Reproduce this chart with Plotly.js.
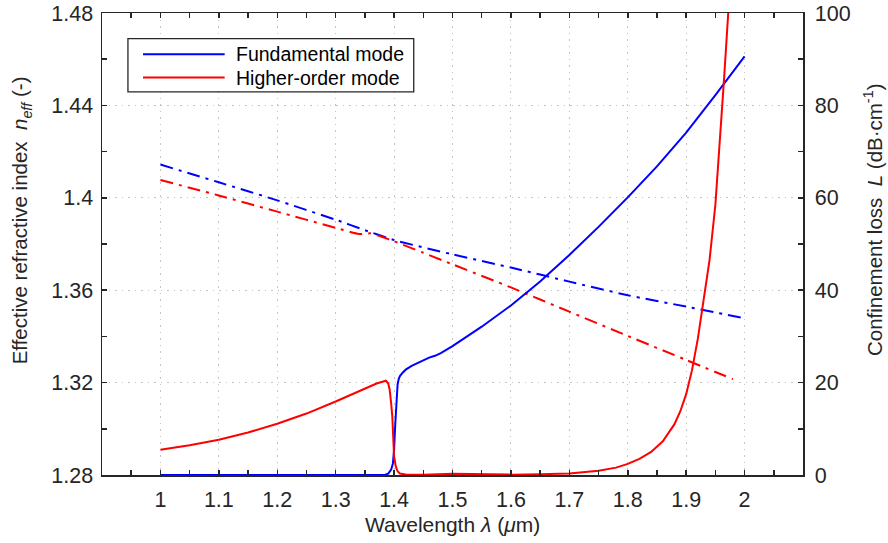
<!DOCTYPE html>
<html>
<head>
<meta charset="utf-8">
<script src="https://cdn.plot.ly/plotly-3.0.1.min.js"></script>
<style>html,body{margin:0;padding:0;background:#fff;}#chart{width:888px;height:543px;}</style>
</head>
<body>
<div id="chart"></div>
<script>
// Effective refractive index (left axis) — dash-dot curves
const neffFundX = [1.0, 1.1, 1.2, 1.3, 1.35, 1.4, 1.5, 1.6, 1.7, 1.8, 1.9, 2.0];
const neffFundY = [1.4144, 1.4067, 1.3989, 1.3905, 1.3860, 1.3817, 1.3755, 1.3698, 1.3637, 1.3578, 1.3529, 1.3478];
const neffHighX = [1.0, 1.1, 1.2, 1.3, 1.34, 1.36, 1.38, 1.4, 1.42, 1.45, 1.5, 1.6, 1.7, 1.8, 1.9, 1.98];
const neffHighY = [1.4077, 1.4010, 1.3940, 1.3870, 1.3843, 1.3846, 1.3830, 1.3812, 1.3792, 1.3762, 1.3712, 1.3612, 1.3507, 1.3402, 1.3298, 1.3215];

// Confinement loss (right axis) — solid curves
const lossFundX = [1.0, 1.1, 1.2, 1.3, 1.35, 1.38, 1.385, 1.39, 1.395, 1.398, 1.40, 1.402, 1.404, 1.406, 1.408, 1.41, 1.415, 1.42, 1.43, 1.44, 1.45, 1.46, 1.47, 1.48, 1.5, 1.55, 1.6, 1.65, 1.7, 1.75, 1.8, 1.85, 1.9, 1.95, 2.0];
const lossFundY = [0, 0, 0, 0, 0, 0, 0.05, 0.3, 1.2, 2.5, 5.5, 11, 16.5, 19.6, 20.8, 21.4, 22.2, 22.8, 23.6, 24.2, 24.8, 25.4, 25.8, 26.4, 27.9, 32.1, 36.7, 41.9, 47.6, 53.7, 60.1, 66.8, 74.1, 82.2, 90.6];
const lossHighX = [1.0, 1.05, 1.1, 1.15, 1.2, 1.25, 1.3, 1.33, 1.35, 1.37, 1.38, 1.386, 1.39, 1.3925, 1.395, 1.397, 1.4, 1.403, 1.406, 1.41, 1.42, 1.45, 1.5, 1.55, 1.6, 1.65, 1.7, 1.75, 1.78, 1.8, 1.82, 1.84, 1.86, 1.88, 1.89, 1.9, 1.91, 1.92, 1.93, 1.94, 1.95, 1.96, 1.965, 1.97, 1.975];
const lossHighY = [5.45, 6.45, 7.65, 9.2, 11.1, 13.3, 15.9, 17.6, 18.8, 19.8, 20.2, 20.4, 19.8, 18.4, 15.5, 12.6, 4.0, 1.8, 0.8, 0.3, 0.1, 0.05, 0.25, 0.1, 0.08, 0.15, 0.35, 0.9, 1.6, 2.4, 3.5, 5.0, 7.3, 11.0, 13.8, 17.5, 22.7, 29.5, 37.5, 46.5, 58.5, 76, 86, 96, 106];

// Tick labels and texts
const xTickVals = [1, 1.1, 1.2, 1.3, 1.4, 1.5, 1.6, 1.7, 1.8, 1.9, 2];
const xTickText = ["1", "1.1", "1.2", "1.3", "1.4", "1.5", "1.6", "1.7", "1.8", "1.9", "2"];
const yTickVals = [1.28, 1.32, 1.36, 1.40, 1.44, 1.48];
const yTickText = ["1.28", "1.32", "1.36", "1.4", "1.44", "1.48"];
const y2TickVals = [0, 20, 40, 60, 80, 100];
const legendNames = ["Fundamental mode", "Higher-order mode"];
const xTitle = 'Wavelength <i>λ</i> (<i>μ</i>m)';
const yTitle = 'Effective refractive index\u00a0\u00a0<i>n</i><sub><i>eff</i></sub> (-)';
const y2Title = 'Confinement loss\u00a0\u00a0<i>L</i> (dB·cm<sup>-1</sup>)';

const BLUE = '#0000ff', RED = '#ff0000', AX = '#262626';
const FONT = 'Liberation Sans, Arial, Helvetica, sans-serif';
const DASHDOT = '13px,6px,3px,6px';
const TF = 21.5;   // tick font
const XLF = 21;    // x label font
const YLF = 20.5;  // y label font
const GRID = {showgrid: true, gridcolor: '#c4c4c4', griddash: '1.5px,5px', gridwidth: 1};

const traces = [
  {x: neffFundX, y: neffFundY, type: 'scatter', mode: 'lines', line: {color: BLUE, width: 2, dash: DASHDOT, shape: 'spline', smoothing: 0.5}, yaxis: 'y', showlegend: false, hoverinfo: 'skip'},
  {x: neffHighX, y: neffHighY, type: 'scatter', mode: 'lines', line: {color: RED, width: 2, dash: DASHDOT, shape: 'spline', smoothing: 0.5}, yaxis: 'y', showlegend: false, hoverinfo: 'skip'},
  {x: lossFundX, y: lossFundY, type: 'scatter', mode: 'lines', name: legendNames[0], line: {color: BLUE, width: 2}, yaxis: 'y2', showlegend: false},
  {x: lossHighX, y: lossHighY, type: 'scatter', mode: 'lines', name: legendNames[1], line: {color: RED, width: 2}, yaxis: 'y2', showlegend: false}
];

// custom legend geometry (paper coordinates)
const LG = {x0: 0.037, x1: 0.4447, y0: 0.8292, y1: 0.9447, lx0: 0.0585, lx1: 0.175, tx: 0.1879, rows: [0.9107, 0.8603]};

const layout = {
  width: 888, height: 543,
  margin: {l: 102, r: 85, t: 13, b: 68},
  paper_bgcolor: '#ffffff', plot_bgcolor: '#ffffff',
  font: {family: FONT, size: TF, color: AX},
  showlegend: false,
  xaxis: Object.assign({
    range: [0.9, 2.1], tickmode: 'array', tickvals: xTickVals, ticktext: xTickText,
    ticks: 'inside', ticklen: 5, tickwidth: 1.5, tickcolor: AX, ticklabelstandoff: 5,
    showline: true, linecolor: AX, linewidth: 1.5, mirror: 'ticks',
    zeroline: false, tickfont: {size: TF, color: AX},
    minor: {tickmode: 'linear', tick0: 0.9, dtick: 0.05, ticks: 'inside', ticklen: 5, tickcolor: AX, showgrid: false}
  }, GRID),
  yaxis: Object.assign({
    range: [1.28, 1.48], tickmode: 'array', tickvals: yTickVals, ticktext: yTickText,
    ticks: 'inside', ticklen: 5, tickwidth: 1.5, tickcolor: AX, ticklabelstandoff: 3,
    showline: true, linecolor: AX, linewidth: 1.5, mirror: false,
    zeroline: false, tickfont: {size: TF, color: AX},
    minor: {tickmode: 'linear', tick0: 1.28, dtick: 0.02, ticks: 'inside', ticklen: 5, tickcolor: AX, showgrid: false}
  }, GRID),
  yaxis2: {
    overlaying: 'y', side: 'right', range: [0, 100], tickmode: 'array', tickvals: y2TickVals,
    ticks: 'inside', ticklen: 5, tickwidth: 1.5, tickcolor: AX, ticklabelstandoff: 6,
    showline: true, linecolor: AX, linewidth: 1.5,
    showgrid: false, zeroline: false, tickfont: {size: TF, color: AX},
    minor: {tickmode: 'linear', tick0: 0, dtick: 10, ticks: 'inside', ticklen: 5, tickcolor: AX, showgrid: false}
  },
  shapes: [
    {type: 'rect', xref: 'paper', yref: 'paper', x0: LG.x0, x1: LG.x1, y0: LG.y0, y1: LG.y1, line: {color: AX, width: 1.3}, fillcolor: '#ffffff', layer: 'above'},
    {type: 'line', xref: 'paper', yref: 'paper', x0: LG.lx0, x1: LG.lx1, y0: LG.rows[0], y1: LG.rows[0], line: {color: BLUE, width: 2}, layer: 'above'},
    {type: 'line', xref: 'paper', yref: 'paper', x0: LG.lx0, x1: LG.lx1, y0: LG.rows[1], y1: LG.rows[1], line: {color: RED, width: 2}, layer: 'above'}
  ],
  annotations: [
    {xref: 'paper', yref: 'paper', x: LG.tx, y: LG.rows[0], xanchor: 'left', yanchor: 'middle', text: legendNames[0], showarrow: false, font: {size: 19.5, color: '#000000'}},
    {xref: 'paper', yref: 'paper', x: LG.tx, y: LG.rows[1], xanchor: 'left', yanchor: 'middle', text: legendNames[1], showarrow: false, font: {size: 19.5, color: '#000000'}},
    {xref: 'paper', yref: 'paper', x: 0.5, y: -0.108, xanchor: 'center', yanchor: 'middle', text: xTitle, showarrow: false, font: {size: XLF, color: AX}},
    {xref: 'paper', yref: 'paper', x: -0.115, y: 0.552, xanchor: 'center', yanchor: 'middle', textangle: -90, text: yTitle, showarrow: false, font: {size: YLF, color: AX}},
    {xref: 'paper', yref: 'paper', x: 1.1, y: 0.552, xanchor: 'center', yanchor: 'middle', textangle: -90, text: y2Title, showarrow: false, font: {size: YLF, color: AX}}
  ]
};

Plotly.newPlot('chart', traces, layout, {displayModeBar: false, staticPlot: true});
</script>
</body>
</html>
